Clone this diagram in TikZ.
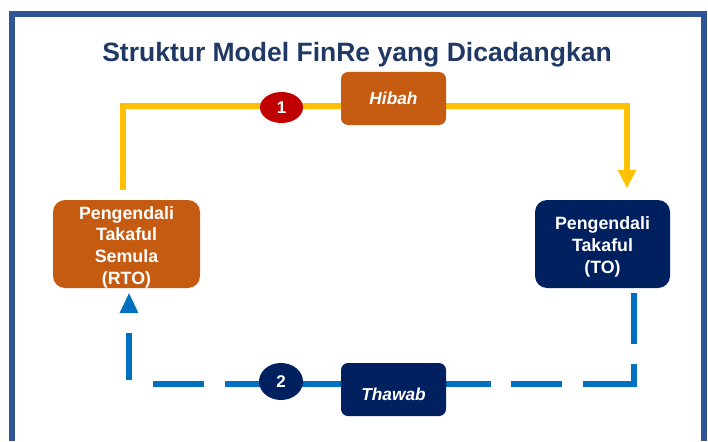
\documentclass[tikz,border=0pt]{standalone}
\usepackage{fontspec}
\setmainfont{Liberation Sans}
\usetikzlibrary{arrows.meta,shapes.geometric}
\pgfdeclarelayer{links}
\pgfsetlayers{links,main}
\definecolor{framecol}{RGB}{47,85,151}
\definecolor{titlecol}{RGB}{31,56,100}
\definecolor{rust}{RGB}{197,90,17}
\definecolor{navy}{RGB}{0,32,96}
\definecolor{darkred}{RGB}{192,0,0}
\definecolor{gold}{RGB}{255,192,0}
\definecolor{azure}{RGB}{0,112,192}

\begin{document}
\begin{tikzpicture}[x=1pt,y=-1pt,
  party/.style={rounded corners=12pt, minimum width=147pt, minimum height=88pt, inner sep=0pt},
  partytext/.style={text=white, font=\fontsize{17.8}{21.7}\selectfont\bfseries, align=center, inner sep=0pt},
  flowbox/.style={rounded corners=7pt, minimum width=105pt, minimum height=53pt, inner sep=0pt,
    text=white, font=\fontsize{17.3}{20}\selectfont\bfseries\itshape},
  stepmark/.style={ellipse, inner sep=0pt, text=white, font=\fontsize{17}{20}\selectfont\bfseries},
  goldline/.style={draw=gold, line width=6pt},
  azureline/.style={draw=azure, line width=6pt},
]
\useasboundingbox (0,0) rectangle (708,441);

% outer frame, open at the bottom edge
\draw[framecol, line width=6pt] (12,441) -- (12,14.5) -- (703.5,14.5) -- (703.5,441);

% title
\node[text=titlecol, font=\fontsize{26.5}{30}\selectfont\bfseries, anchor=base, inner sep=0pt]
  (title) at (357,62) {Struktur Model FinRe yang Dicadangkan};

% the two operators
\node[party, fill=rust] (rto) at (126.5,244) {};
\node[partytext] (rtotext) at ([yshift=-3.2pt]rto.center) {Pengendali\\Takaful\\Semula\\(RTO)};
\node[party, fill=navy, minimum width=135pt] (to) at (602.5,244) {};
\node[partytext] (totext) at ([yshift=-3pt]to.center) {Pengendali\\Takaful\\(TO)};

% flow labels and step markers
\node[flowbox, fill=rust] (hibah) at (393.5,98.5) {Hibah};
\node[flowbox, fill=navy, text height=21.4pt, text depth=0pt] (thawab) at (393.5,389.5) {Thawab};
\node[stepmark, fill=darkred, minimum width=43pt, minimum height=31pt] (s1) at (281.5,107.5) {1};
\node[stepmark, fill=navy, minimum width=44pt, minimum height=37pt] (s2) at (281,381.5) {2};

% connectors, behind the boxes
\begin{pgfonlayer}{links}
  \coordinate (gl) at (123,106);
  \coordinate (gr) at (627,106);
  \draw[goldline, shorten <=10pt, shorten >=12pt,
        -{Triangle[width=19pt,length=18pt,line width=0pt]}]
    (rto.north -| gl) -- (gl) -- (gr) -- (to.north -| gr);

  \coordinate (al) at (129,384);
  \coordinate (ar) at (634,384);
  \draw[azureline, dash pattern=on 51pt off 20pt, shorten <=5pt]
    (to.south -| ar) -- ([yshift=-3pt]ar);
  \draw[azureline,
        dash pattern=on 51pt off 20.67pt on 51pt off 20.67pt on 51pt off 20.67pt
                     on 51pt off 20.67pt on 51pt off 20.67pt on 51pt off 20.67pt
                     on 51pt off 28pt on 47pt off 100pt,
        shorten >=5pt,
        -{Triangle[width=19pt,length=20pt,line width=0pt]}]
    (ar) -- (al) -- (rto.south -| al);
\end{pgfonlayer}
\end{tikzpicture}
\end{document}
